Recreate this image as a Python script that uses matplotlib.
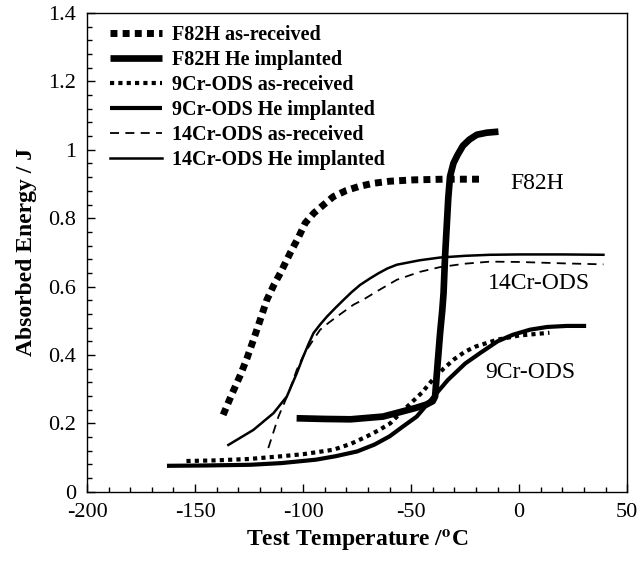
"""
plot.py: Charpy absorbed energy vs test temperature
"""
import matplotlib
matplotlib.use("Agg")
import matplotlib.pyplot as plt
from matplotlib.ticker import MultipleLocator, FuncFormatter

plt.rcParams['font.family'] = ['Liberation Serif', 'DejaVu Serif']
plt.rcParams['mathtext.fontset'] = 'stix'
plt.rcParams['axes.unicode_minus'] = False

# F82H as-received
f82_ar_t = [-137, -133, -129, -126, -123, -120, -116.8, -113.5, -110.5, -106,
            -102, -99, -95, -90, -86, -80, -74, -67.5, -60, -49, -35, -18]
f82_ar_e = [0.225, 0.285, 0.342, 0.39, 0.444, 0.5, 0.561, 0.605, 0.64, 0.698,
            0.746, 0.786, 0.815, 0.842, 0.863, 0.881, 0.893, 0.902, 0.908, 0.912,
            0.914, 0.914]

# F82H He implanted
f82_he_t = [-103, -90, -78, -63, -54, -48, -43, -40, -38.9, -37.8, -36.6, -35.6,
            -35, -34.3, -33.5, -32.8, -32, -30.4, -28.5, -26, -23, -19.6, -15,
            -9.6]
f82_he_e = [0.215, 0.213, 0.212, 0.22, 0.235, 0.245, 0.255, 0.265, 0.279, 0.37,
            0.464, 0.53, 0.58, 0.688, 0.78, 0.86, 0.922, 0.961, 0.985, 1.012,
            1.03, 1.044, 1.05, 1.053]

# 9Cr-ODS as-received
cr9_ar_t = [-154, -140, -125, -110, -100, -86, -78, -70.5, -65, -59.7, -55, -50,
            -45, -40, -35, -30, -25, -20, -10, 0, 14]
cr9_ar_e = [0.09, 0.092, 0.096, 0.104, 0.11, 0.123, 0.14, 0.162, 0.18, 0.2, 0.23,
            0.26, 0.29, 0.328, 0.36, 0.388, 0.41, 0.425, 0.445, 0.457, 0.465]

# 9Cr-ODS He implanted
cr9_he_t = [-163, -145, -124.5, -110, -94, -85, -75, -67, -60, -54, -47.4, -40,
            -33, -25, -18, -10, -3, 5, 13, 22, 31]
cr9_he_e = [0.076, 0.077, 0.079, 0.084, 0.094, 0.104, 0.118, 0.138, 0.162, 0.19,
            0.22, 0.275, 0.327, 0.375, 0.406, 0.44, 0.459, 0.474, 0.482, 0.485,
            0.485]

# 14Cr-ODS as-received
cr14_ar_t = [-116.1, -111.4, -106.8, -102.9, -100.5, -98.3, -95, -92.1, -88,
             -84.4, -80, -76.7, -72.1, -65.9, -56.6, -46, -36.6, -25, -13.4, 0,
             20, 39]
cr14_ar_e = [0.128, 0.22, 0.288, 0.357, 0.39, 0.415, 0.447, 0.474, 0.495, 0.512,
             0.532, 0.547, 0.562, 0.586, 0.62, 0.643, 0.657, 0.667, 0.673, 0.672,
             0.668, 0.665]

# 14Cr-ODS He implanted
cr14_he_t = [-134.6, -123, -113.7, -107.5, -102.9, -99.9, -97.5, -95.2, -92,
             -89, -85, -81.3, -77.5, -73.6, -69, -65.1, -61, -56.6, -46, -36.6,
             -25, -13.4, 0, 20, 39]
cr14_he_e = [0.137, 0.181, 0.23, 0.279, 0.347, 0.396, 0.432, 0.464, 0.49, 0.512,
             0.538, 0.561, 0.584, 0.605, 0.624, 0.639, 0.653, 0.664, 0.677, 0.685,
             0.69, 0.693, 0.694, 0.694, 0.693]

fig = plt.figure(figsize=(6.4, 5.64), dpi=100)
ax = fig.add_axes([0.136, 0.128, 0.844, 0.849])

ax.plot(f82_ar_t, f82_ar_e, color='black', lw=5, linestyle=(0, (1, 0.75)),
        dash_capstyle='butt', label='F82H as-received')
ax.plot(f82_he_t, f82_he_e, color='black', lw=4.8, solid_capstyle='butt',
        solid_joinstyle='round', label='F82H He implanted')
ax.plot(cr9_ar_t, cr9_ar_e, color='black', lw=3, linestyle=(0, (1, 1)),
        dash_capstyle='butt', label='9Cr-ODS as-received')
ax.plot(cr9_he_t, cr9_he_e, color='black', lw=3, solid_capstyle='butt',
        solid_joinstyle='round', label='9Cr-ODS He implanted')
ax.plot(cr14_ar_t, cr14_ar_e, color='black', lw=1.3, linestyle=(0, (5, 3.5)),
        label='14Cr-ODS as-received')
ax.plot(cr14_he_t, cr14_he_e, color='black', lw=1.8, solid_joinstyle='round',
        label='14Cr-ODS He implanted')

ax.text(-4, 0.9, 'F82H', fontsize=17, va='center', ha='left')
ax.text(-14.5, 0.61, '14Cr-ODS', fontsize=17, va='center', ha='left')
ax.text(-15.5, 0.35, '9Cr-ODS', fontsize=17, va='center', ha='left')

ax.set_xlim(-200, 50)
ax.set_ylim(0, 1.4)
ax.xaxis.set_major_locator(MultipleLocator(50))
ax.xaxis.set_minor_locator(MultipleLocator(10))
ax.yaxis.set_major_locator(MultipleLocator(0.2))
ax.yaxis.set_minor_locator(MultipleLocator(0.04))
ax.yaxis.set_major_formatter(FuncFormatter(lambda v, p: '%g' % round(v, 2)))
ax.tick_params(which='major', direction='in', length=6, width=1, labelsize=16,
               top=False, right=False, pad=8)
ax.tick_params(which='minor', direction='in', length=3.5, width=1,
               top=False, right=False)
for s in ax.spines.values():
    s.set_linewidth(1)

ax.set_xlabel(r'Test Temperature /$^{\mathbf{o}}$C', fontsize=17,
              fontweight='bold', labelpad=4)
ax.set_ylabel('Absorbed Energy / J', fontsize=17, fontweight='bold', labelpad=8)

ax.legend(loc='upper left', frameon=False, prop={'weight': 'bold', 'size': 14.5},
          handlelength=2.6, handletextpad=0.5, labelspacing=0.25,
          borderaxespad=0.2, bbox_to_anchor=(0.02, 1.0))

fig.savefig('out.png', dpi=100)
